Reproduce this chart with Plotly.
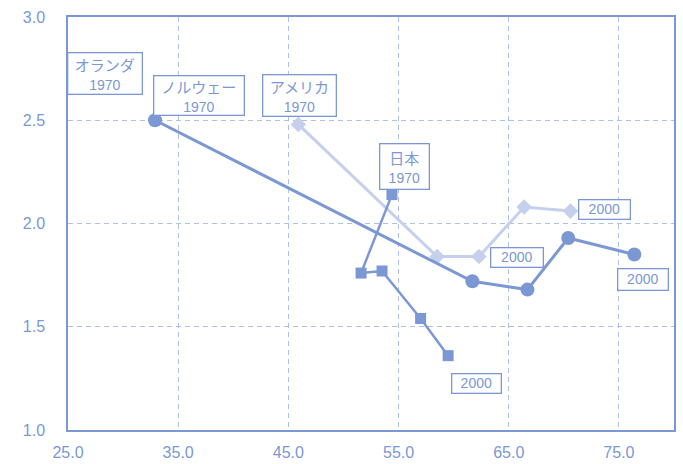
import plotly.graph_objects as go

# Data: female labour participation (%) vs. total fertility rate
norway_x = [32.9, 61.7, 66.7, 70.4, 76.4]
norway_y = [2.50, 1.72, 1.68, 1.93, 1.85]

usa_x = [45.9, 58.5, 62.3, 66.4, 70.6]
usa_y = [2.48, 1.84, 1.84, 2.08, 2.06]

japan_x = [54.4, 51.6, 53.5, 57.0, 59.5]
japan_y = [2.14, 1.76, 1.77, 1.54, 1.36]

# Label boxes
label_name = ["オランダ", "ノルウェー", "アメリカ", "日本", "", "", "", ""]
label_year = ["1970", "1970", "1970", "1970", "2000", "2000", "2000", "2000"]
label_x = [28.40, 36.93, 45.97, 55.50, 73.65, 65.71, 77.23, 62.12]
label_y = [2.724, 2.622, 2.622, 2.278, 2.070, 1.833, 1.731, 1.223]
label_w = [73, 89, 72, 48, 50, 51, 49, 48]
label_h = [40, 38, 40, 44, 18, 18, 20, 18]

x_ticks = [25, 35, 45, 55, 65, 75]
x_tick_text = ["25.0", "35.0", "45.0", "55.0", "65.0", "75.0"]
y_ticks = [1.0, 1.5, 2.0, 2.5, 3.0]
y_tick_text = ["1.0", "1.5", "2.0", "2.5", "3.0"]

BLUE = "#7b98d4"
LIGHT = "#c5d1ec"
GRID = "#adc0e8"
FONT = "Liberation Sans, Arial, sans-serif"
JFONT = "Noto Sans CJK JP, Liberation Sans, sans-serif"

fig = go.Figure()
fig.add_trace(go.Scatter(x=usa_x, y=usa_y, mode="lines+markers",
                         line=dict(color=LIGHT, width=3),
                         marker=dict(symbol="diamond", size=12, color=LIGHT),
                         name="アメリカ"))
fig.add_trace(go.Scatter(x=norway_x, y=norway_y, mode="lines+markers",
                         line=dict(color=BLUE, width=3),
                         marker=dict(symbol="circle", size=14, color=BLUE),
                         name="ノルウェー"))
fig.add_trace(go.Scatter(x=japan_x, y=japan_y, mode="lines+markers",
                         line=dict(color=BLUE, width=2.5),
                         marker=dict(symbol="square", size=11, color=BLUE),
                         name="日本"))

for n, yr, x, y, w, h in zip(label_name, label_year, label_x, label_y, label_w, label_h):
    if n:
        txt = f"<span style='font-size:15px'>{n}</span><br><span style='font-family:Liberation Sans;font-size:14px'>{yr}</span>"
    else:
        txt = f"<span style='font-family:Liberation Sans'>{yr}</span>"
    fig.add_annotation(x=x, y=y, xref="x", yref="y", text=txt, showarrow=False,
                       xanchor="center", yanchor="middle",
                       width=w, height=h, borderpad=0,
                       bgcolor="white", bordercolor=BLUE, borderwidth=1.3,
                       font=dict(family=JFONT, size=14 if not n else 15, color=BLUE))

fig.update_layout(
    width=683, height=464,
    margin=dict(l=68, r=9, t=17, b=34, autoexpand=False),
    paper_bgcolor="white", plot_bgcolor="white",
    showlegend=False,
    font=dict(family=FONT, color=BLUE),
)
fig.update_xaxes(range=[25, 80], tickvals=x_ticks, ticktext=x_tick_text,
                 automargin=False,
                 showline=True, mirror=True, linecolor=BLUE, linewidth=1.5,
                 showgrid=True, gridcolor=GRID, gridwidth=1, griddash="5px,4px",
                 zeroline=False, ticks="", ticklabelstandoff=7,
                 tickfont=dict(family=FONT, size=16, color=BLUE))
fig.update_yaxes(range=[1.0, 3.0], tickvals=y_ticks, ticktext=y_tick_text,
                 automargin=False,
                 showline=True, mirror=True, linecolor=BLUE, linewidth=1.5,
                 showgrid=True, gridcolor=GRID, gridwidth=1, griddash="5px,4px",
                 zeroline=False, ticks="", ticklabelstandoff=18,
                 tickfont=dict(family=FONT, size=16, color=BLUE))

fig.write_html("out.html")
